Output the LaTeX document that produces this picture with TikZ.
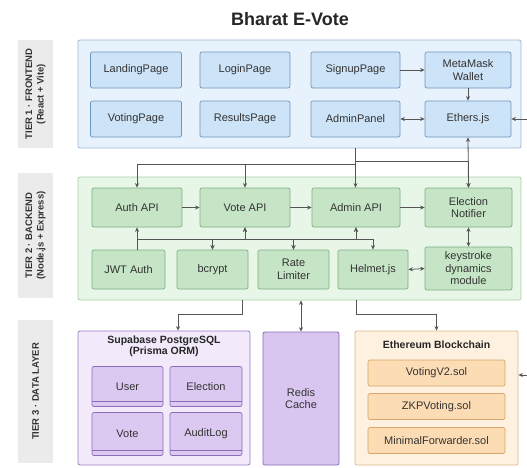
\documentclass[tikz,border=0pt]{standalone}
\usepackage{fontspec}
\setmainfont{Liberation Sans}
\usetikzlibrary{arrows.meta,calc}
\definecolor{txt}{HTML}{333333}
\definecolor{lineC}{HTML}{555555}
\definecolor{labF}{HTML}{EBEBEB}
\definecolor{t1F}{HTML}{E7F2FC}
\definecolor{t1B}{HTML}{9DB8D2}
\definecolor{feF}{HTML}{CDE3F7}
\definecolor{feB}{HTML}{7095BA}
\definecolor{t2F}{HTML}{E8F6E8}
\definecolor{t2B}{HTML}{A9D0A9}
\definecolor{beF}{HTML}{C6E5C6}
\definecolor{beB}{HTML}{7FAE82}
\definecolor{dbF}{HTML}{F2E9FB}
\definecolor{dbB}{HTML}{9A80C4}
\definecolor{tbF}{HTML}{DCC9F1}
\definecolor{tbB}{HTML}{8B6BB8}
\definecolor{rdF}{HTML}{D8C5F0}
\definecolor{ethF}{HTML}{FEF1E0}
\definecolor{ethB}{HTML}{E0B98A}
\definecolor{scF}{HTML}{FCDCB4}
\definecolor{scB}{HTML}{D9A56A}
\begin{document}
\begin{tikzpicture}[x=1pt,y=-1pt,
  every node/.style={font=\fontsize{11}{12.5}\selectfont, text=txt, align=center, inner sep=1pt},
  tierlab/.style={fill=labF, rotate=90, font=\bfseries\fontsize{9.5}{11.5}\selectfont},
  frame1/.style={draw=t1B, fill=t1F, rounded corners=2pt, line width=0.8pt},
  frame2/.style={draw=t2B, fill=t2F, rounded corners=2pt, line width=0.8pt},
  fe/.style={draw=feB, fill=feF, rounded corners=2pt, line width=0.7pt},
  be/.style={draw=beB, fill=beF, rounded corners=2pt, line width=0.7pt},
  dbbox/.style={draw=dbB, fill=dbF, rounded corners=2pt, line width=0.8pt},
  tbl/.style={draw=tbB, fill=tbF, rounded corners=2pt, line width=0.7pt},
  redisbox/.style={draw=tbB, fill=rdF, rounded corners=2pt, line width=0.8pt},
  ethbox/.style={draw=ethB, fill=ethF, rounded corners=2pt, line width=0.8pt},
  sc/.style={draw=scB, fill=scF, rounded corners=2pt, line width=0.7pt},
  ttl/.style={font=\bfseries\fontsize{10.5}{11.5}\selectfont, text=black!85},
  con/.style={draw=lineC, line width=0.8pt, -{Stealth[length=4.5pt,width=4pt]}},
  dcon/.style={draw=lineC, line width=0.8pt, {Stealth[length=4.5pt,width=4pt]}-{Stealth[length=4.5pt,width=4pt]}},
  plain/.style={draw=lineC, line width=0.8pt}
]
\useasboundingbox[fill=white] (0,0) rectangle (527,467);

% title
\node[font=\bfseries\fontsize{18}{20}\selectfont, text=black!85] (title) at (290,19) {Bharat E-Vote};

% tier labels
\node[tierlab, minimum width=108pt, minimum height=35pt] (lab1) at (35.5,94) {TIER 1 · FRONTEND\\(React + Vite)};
\node[tierlab, minimum width=125pt, minimum height=35pt] (lab2) at (35.5,235.5) {TIER 2 · BACKEND\\(Node.js + Express)};
\node[tierlab, minimum width=143pt, minimum height=35pt] (lab3) at (35.5,391.5) {TIER 3 · DATA LAYER};

% frames
\node[frame1, minimum width=443pt, minimum height=108pt] (t1) at (299.5,94) {};
\node[frame2, minimum width=443pt, minimum height=123pt] (t2) at (299.5,238.5) {};

% tier 1 nodes
\node[fe, minimum width=91pt, minimum height=36pt] (landing) at (136,70) {LandingPage};
\node[fe, minimum width=90pt, minimum height=36pt] (login) at (245,70) {LoginPage};
\node[fe, minimum width=89pt, minimum height=36pt] (signup) at (355.5,70) {SignupPage};
\node[fe, minimum width=86pt, minimum height=36pt] (meta) at (468,70) {MetaMask\\Wallet};
\node[fe, minimum width=91pt, minimum height=36pt] (voting) at (136,119) {VotingPage};
\node[fe, minimum width=90pt, minimum height=36pt] (results) at (245,119) {ResultsPage};
\node[fe, minimum width=89pt, minimum height=36pt] (admin) at (355.5,119) {AdminPanel};
\node[fe, minimum width=86pt, minimum height=36pt] (ethers) at (468,119) {Ethers.js};

% tier 2 nodes
\node[be, minimum width=90pt, minimum height=39pt] (auth) at (137,207.5) {Auth API};
\node[be, minimum width=90pt, minimum height=39pt] (vote) at (245,207.5) {Vote API};
\node[be, minimum width=88pt, minimum height=39pt] (adminapi) at (356,207.5) {Admin API};
\node[be, minimum width=87pt, minimum height=39pt] (notifier) at (468.5,207.5) {Election\\Notifier};
\node[be, minimum width=73pt, minimum height=39pt] (jwt) at (128.5,269.5) {JWT Auth};
\node[be, minimum width=71pt, minimum height=39pt] (bcrypt) at (212.5,269.5) {bcrypt};
\node[be, minimum width=71pt, minimum height=39pt] (rate) at (293.5,269.5) {Rate\\Limiter};
\node[be, minimum width=70pt, minimum height=39pt] (helmet) at (373,269.5) {Helmet.js};
\node[be, minimum width=87pt, minimum height=43pt] (keystroke) at (468.5,268.5) {keystroke\\dynamics\\module};

% tier 3
\node[dbbox, minimum width=172pt, minimum height=134pt] (supa) at (164,398) {};
\node[ttl] (supaT) at (164,346.5) {Supabase PostgreSQL\\(Prisma ORM)};
\node[tbl, minimum width=71pt, minimum height=40pt] (user) at (127.5,386.5) {User};
\node[tbl, minimum width=72pt, minimum height=40pt] (election) at (206,386.5) {Election};
\node[tbl, minimum width=71pt, minimum height=43pt] (votetbl) at (127.5,434) {Vote};
\node[tbl, minimum width=72pt, minimum height=43pt] (audit) at (206,434) {AuditLog};
\foreach \n in {user,election,votetbl,audit}{
  \draw[draw=tbB, line width=0.7pt] ([yshift=6pt]\n.south west) -- ([yshift=6pt]\n.south east);
}

\node[redisbox, minimum width=76pt, minimum height=133pt] (redis) at (301,398.5) {Redis\\Cache};

\node[ethbox, minimum width=163pt, minimum height=134pt] (eth) at (436.5,398) {};
\node[ttl] (ethT) at (436.5,345) {Ethereum Blockchain};
\node[sc, minimum width=137pt, minimum height=26pt] (v2) at (436.5,373) {VotingV2.sol};
\node[sc, minimum width=137pt, minimum height=26pt] (zkp) at (436.5,406.5) {ZKPVoting.sol};
\node[sc, minimum width=137pt, minimum height=26pt] (mf) at (436.5,440.5) {MinimalForwarder.sol};

% ---- connectors tier 1
\draw[con] (signup.east) -- (meta.west);
\draw[con] (meta.south) -- (ethers.north);
\draw[dcon] (admin.east) -- (ethers.west);
\draw[dcon] (ethers.east) -- (545,119) |- ([yshift=23pt]eth.east);

% tier 1 -> tier 2
\coordinate (t1a) at (t1.south -| admin.south);
\coordinate (busA) at (355.5,164);
\coordinate (busB) at (355.5,161.5);
\draw[con] (t1a) -- (busA) -| (auth.north);
\draw[con] (busA) -| (vote.north);
\draw[con] (t1a) -- (adminapi.north -| t1a);
\draw[con] (t1a) -- (busB) -| (notifier.north);
\draw[dcon] (ethers.south) -- (notifier.north);

% tier 2 internal
\draw[con] (auth.east) -- (vote.west);
\draw[con] (vote.east) -- (adminapi.west);
\draw[con] (adminapi.east) -- (notifier.west);
\draw[dcon] (notifier.south) -- (keystroke.north);
\draw[dcon] (keystroke.west) -- (helmet.east);
\coordinate (bus) at (0,239);
\draw[con] (jwt.north -| auth.south) -- (auth.south);
\draw[con] (auth.south |- bus) -| (bcrypt.north);
\draw[dcon] (vote.south) -- (vote.south |- bus) -| (bcrypt.north);
\draw[dcon] (vote.south) -- (vote.south |- bus) -| (rate.north);
\draw[dcon] (adminapi.south) -- (adminapi.south |- bus) -| (rate.north);
\draw[dcon] (adminapi.south) -- (adminapi.south |- bus) -| (helmet.north);

% tier 2 -> tier 3
\coordinate (t2v) at (242,300);
\coordinate (t2a) at (t2.south -| adminapi.south);
\draw[con] (t2v) -- (242,314) -| ([xshift=14pt]supa.north);
\draw[dcon] (t2.south -| redis.north) -- (redis.north);
\draw[con] (t2a) -- (356,314) -| (eth.north);
\end{tikzpicture}
\end{document}
